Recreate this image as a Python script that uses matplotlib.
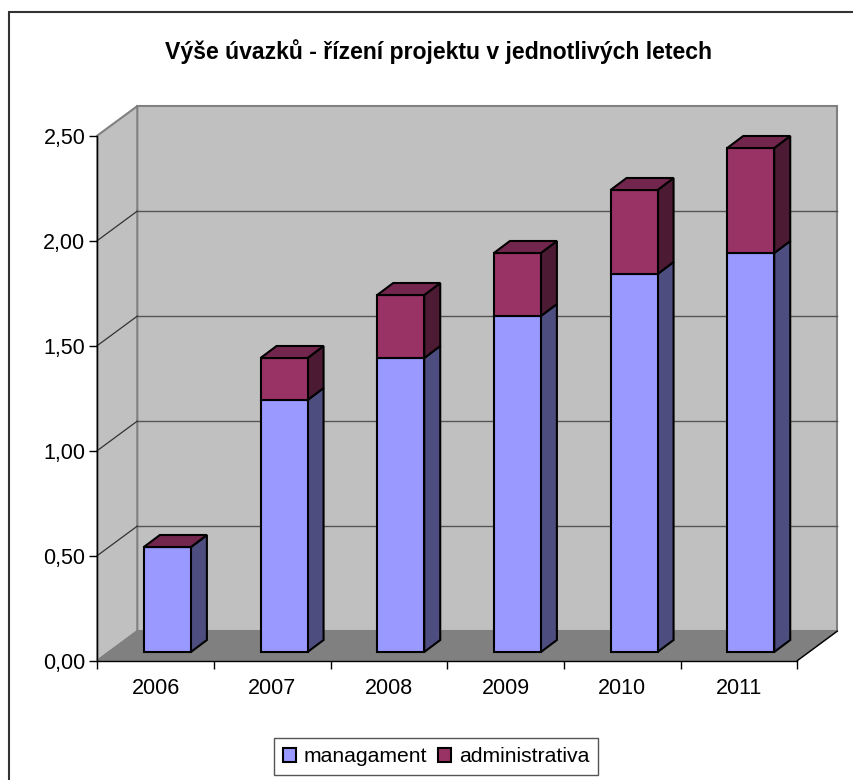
import matplotlib
matplotlib.use("Agg")
import matplotlib.pyplot as plt
from matplotlib.lines import Line2D

plt.rcParams['font.family'] = ['Liberation Sans', 'DejaVu Sans']

years = ['2006', '2007', '2008', '2009', '2010', '2011']
managament = [0.5, 1.2, 1.4, 1.6, 1.8, 1.9]
administrativa = [0.0, 0.2, 0.3, 0.3, 0.4, 0.5]
y_ticks = [0.0, 0.5, 1.0, 1.5, 2.0, 2.5]
y_labels = ['0,00', '0,50', '1,00', '1,50', '2,00', '2,50']
title = 'Výše úvazků - řízení projektu v jednotlivých letech'

W, H = 854, 780
L, R, T, B = 97.3, 797.3, 135.6, 660.6
fig = plt.figure(figsize=(W / 100, H / 100), dpi=100, facecolor='white')
ax = fig.add_axes([L / W, 1 - B / H, (R - L) / W, (B - T) / H])
ax.set_xlim(0, len(years))
ax.set_ylim(0, 2.5)
ax.patch.set_visible(False)

px_x = len(years) / (R - L)
px_y = 2.5 / (B - T)
wall_dx, wall_dy = 40 * px_x, 29.5 * px_y
bar_dx, bar_dy = 16 * px_x, 12 * px_y
bar_off, bar_w, base = 46.6 * px_x, 47 * px_x, 8.6 * px_y
n = len(years)

C_WALL, C_FLOOR, C_EDGE = '#C0C0C0', '#808080', '#808080'
C_M, C_M_S = '#9999FF', '#4D4D80'
C_A, C_A_S, C_A_T = '#993366', '#4D1A33', '#73264D'

# back wall, left wall, floor
ax.fill([wall_dx, n + wall_dx, n + wall_dx, wall_dx], [wall_dy, wall_dy, 2.5 + wall_dy, 2.5 + wall_dy],
        fc=C_WALL, ec=C_EDGE, lw=1.5, clip_on=False, zorder=1)
ax.fill([0, wall_dx, wall_dx, 0], [0, wall_dy, 2.5 + wall_dy, 2.5],
        fc=C_WALL, ec=C_EDGE, lw=1.5, clip_on=False, zorder=1)
for v in y_ticks[1:-1]:
    ax.plot([wall_dx, n + wall_dx], [v + wall_dy] * 2, color='#555555', lw=1.0, clip_on=False, zorder=2)
    ax.plot([0, wall_dx], [v, v + wall_dy], color='#333333', lw=0.9, clip_on=False, zorder=2)
ax.fill([0, n, n + wall_dx, wall_dx], [0, 0, wall_dy, wall_dy],
        fc=C_FLOOR, ec=C_EDGE, lw=1.0, clip_on=False, zorder=3)
ax.plot([n, n + wall_dx], [0, wall_dy], color='black', lw=1.0, clip_on=False, zorder=3.5)

# bars
lefts = [i + bar_off for i in range(n)]
kw = dict(ec='black', lw=1.5, clip_on=False, joinstyle='miter')
h_m = None
h_a = None
for i, x in enumerate(lefts):
    z = 4 + i
    bot = base
    for val, cf, cs, ct, series in ((managament[i], C_M, C_M_S, None, 'm'),
                                    (administrativa[i], C_A, C_A_S, C_A_T, 'a')):
        top = bot + val
        ax.fill([x + bar_w, x + bar_w + bar_dx, x + bar_w + bar_dx, x + bar_w],
                [bot, bot + bar_dy, top + bar_dy, top], fc=cs, zorder=z, **kw)
        b = ax.bar(x, val, bar_w, bottom=bot, align='edge', color=cf, edgecolor='black',
                   linewidth=1.5, clip_on=False, zorder=z)
        if ct:
            ax.fill([x, x + bar_w, x + bar_w + bar_dx, x + bar_dx],
                    [top, top, top + bar_dy, top + bar_dy], fc=ct, zorder=z, **kw)
        if series == 'm':
            h_m = b
        else:
            h_a = b
        bot = top

# axes
for s in ('top', 'right'):
    ax.spines[s].set_visible(False)
for s in ('left', 'bottom'):
    ax.spines[s].set_linewidth(1.0)
    ax.spines[s].set_zorder(20)
ax.set_yticks(y_ticks)
ax.set_yticklabels(y_labels, fontsize=15.5)
ax.set_xticks(range(n + 1))
ax.set_xticklabels([])
ax.set_xticks([i + 0.5 for i in range(n)], minor=True)
ax.set_xticklabels(years, minor=True, fontsize=15.5)
ax.tick_params(axis='y', length=5.5, width=1.0, pad=3, zorder=20)
ax.tick_params(axis='x', which='major', length=5.8, width=1.0)
ax.tick_params(axis='x', which='minor', length=0, pad=12.5)

fig.text(439 / W, 1 - 52 / H, title, ha='center', va='center', fontsize=16.6, fontweight='bold', color='black')

# chart frame: only the left and top edges are inside the picture
fig.add_artist(Line2D([9 / W, 9 / W, 1], [0, 1 - 12 / H, 1 - 12 / H], transform=fig.transFigure,
                      color='#333333', lw=1.5, solid_joinstyle='miter'))

leg = fig.legend([h_m, h_a], ['managament', 'administrativa'], loc='center',
                 bbox_to_anchor=(436 / W, 1 - 756.7 / H), ncol=2, fontsize=15.2,
                 frameon=True, fancybox=False, edgecolor='#555555', framealpha=1,
                 handlelength=0.62, handleheight=0.62, handletextpad=0.38,
                 columnspacing=0.48, borderpad=0.42, borderaxespad=0)
leg.get_frame().set_linewidth(1.0)

fig.savefig('out.png', dpi=100)
